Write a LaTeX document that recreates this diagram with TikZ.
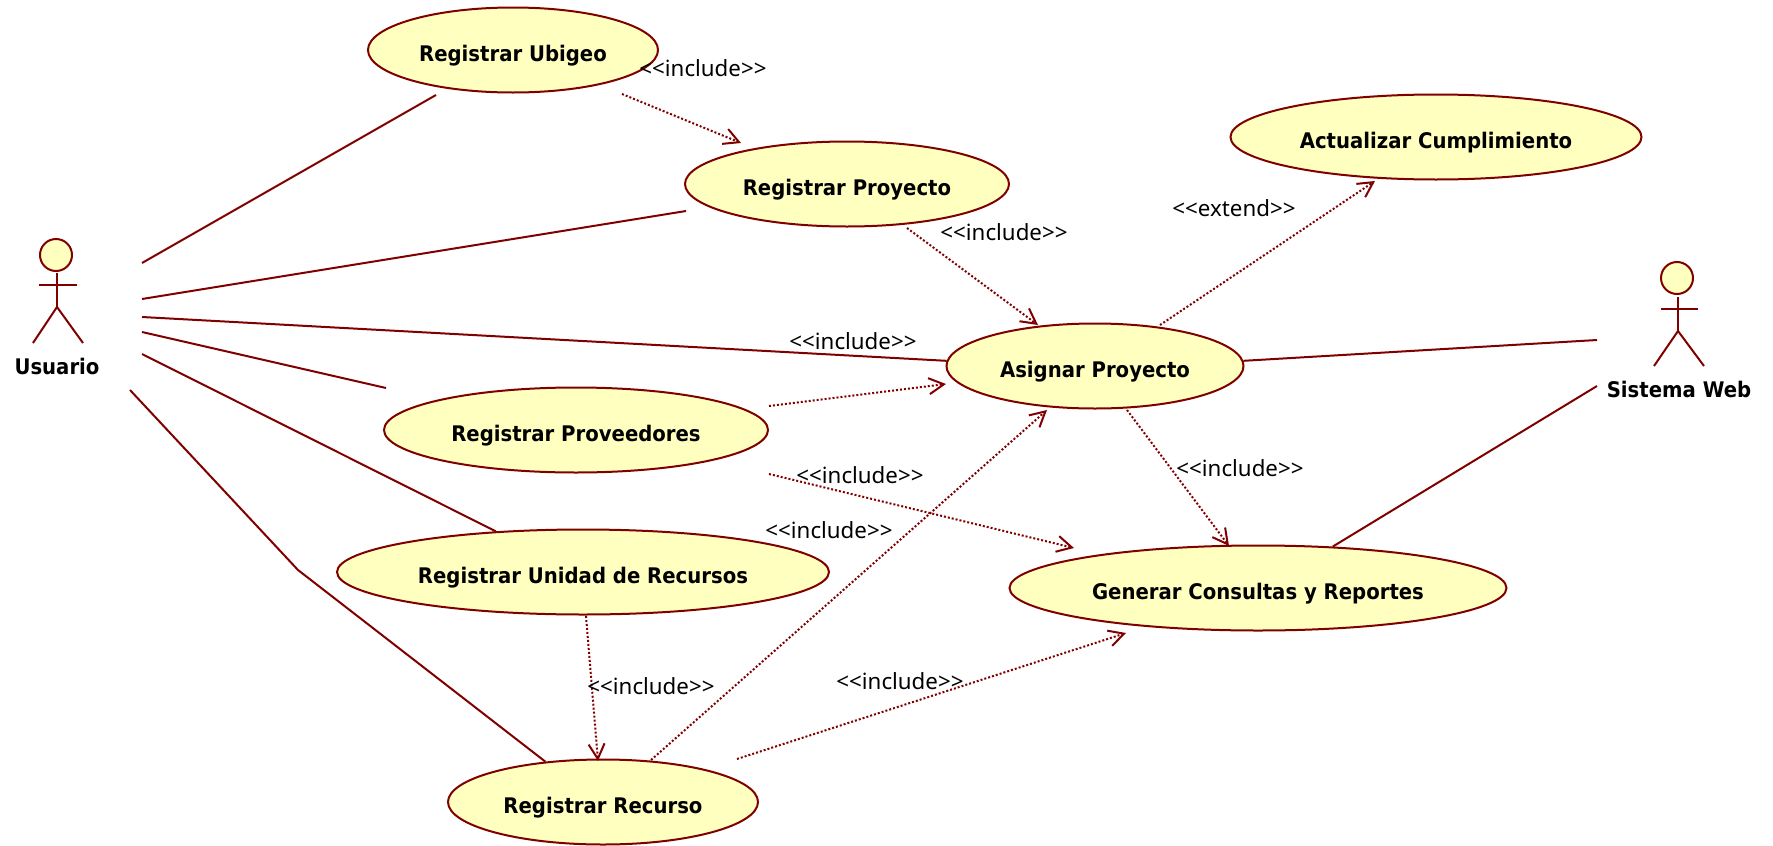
\documentclass[tikz,border=0pt]{standalone}
\usepackage{xcolor}
\usepackage{fontspec}
\setmainfont{Noto Sans}
\newfontfamily\labelfont[FakeStretch=0.915]{DejaVu Sans}
\usetikzlibrary{shapes.geometric}
\usetikzlibrary{arrows.meta}
\definecolor{umlline}{HTML}{800000}
\definecolor{umlfill}{HTML}{FFFFC0}
\tikzset{usecase/.style={ellipse, draw=umlline, fill=umlfill, line width=2pt, inner sep=0pt, minimum height=85pt, text height=22pt, text depth=0pt, font=\fontsize{21.5}{25}\labelfont\bfseries},
         assoc/.style={draw=umlline, line width=2pt},
         depend/.style={draw=umlline, line width=2pt, dash pattern=on 2pt off 2pt, ->},
         stereo/.style={inner sep=0pt, font=\fontsize{22.3}{25}\selectfont},
         actorname/.style={inner sep=0pt, font=\fontsize{21.5}{25}\labelfont\bfseries},
         actorhead/.style={circle, draw=umlline, fill=umlfill, line width=2pt, inner sep=0pt, minimum size=32pt}}
\newcommand{\incl}{<{}<include>{}>}

\begin{document}
\begin{tikzpicture}[x=1pt, y=-1pt, >={Straight Barb[length=15pt,width=16pt,line width=2pt]}]
\useasboundingbox (0,0) rectangle (1773,846);

\node[usecase, minimum width=290pt] (ubigeo) at (513,50) {Registrar Ubigeo};
\node[usecase, minimum width=324pt] (proyecto) at (847,184) {Registrar Proyecto};
\node[usecase, minimum width=411pt] (actualizar) at (1436,137) {Actualizar Cumplimiento};
\node[usecase, minimum width=297pt] (asignar) at (1095,366) {Asignar Proyecto};
\node[usecase, minimum width=384pt] (proveedores) at (576,430) {Registrar Proveedores};
\node[usecase, minimum width=492pt] (unidad) at (583,572) {Registrar Unidad de Recursos};
\node[usecase, minimum width=497pt] (consultas) at (1258,588) {Generar Consultas y Reportes};
\node[usecase, minimum width=310pt] (recurso) at (603,802) {Registrar Recurso};

% actors
\node[actorhead] (usuario) at (56,255) {};
\coordinate (usuarioHip) at (57,307);
\draw[assoc] (57,273)--(usuarioHip);
\draw[assoc] (39,285)--(77,285);
\draw[assoc] (33,343)--(usuarioHip)--(83,343);
\node[actorname] (usuarioName) at (57,366) {Usuario};

\node[actorhead] (sistema) at (1677,278) {};
\coordinate (sistemaHip) at (1678,331);
\draw[assoc] (1678,297)--(sistemaHip);
\draw[assoc] (1661,309)--(1698,309);
\draw[assoc] (1654,366)--(sistemaHip)--(1704,366);
\node[actorname] (sistemaName) at (1679,389) {Sistema Web};

% associations
\coordinate (u1) at (142,263);
\coordinate (u2) at (142,299);
\coordinate (u3) at (142,317);
\coordinate (u4) at (142,332);
\coordinate (u5) at (142,354);
\coordinate (u6) at (130,390);
\coordinate (ubigeoEnd) at (436,95);
\coordinate (proyectoEnd) at (686,211);
\coordinate (proveedoresEnd) at (386,388);
\coordinate (s1) at (1597,340);
\coordinate (s2) at (1597,386);
\draw[assoc] (u1)--(ubigeoEnd);
\draw[assoc] (u2)--(proyectoEnd);
\draw[assoc] (u3)--(asignar.178);
\draw[assoc] (u4)--(proveedoresEnd);
\draw[assoc] (u5)--(unidad.155);
\draw[assoc] (u6)--(298,570)--(recurso.145);
\draw[assoc] (asignar.2)--(s1);
\draw[assoc] (consultas.29)--(s2);

% dependencies
\coordinate (d1a) at (622,94);
\coordinate (d1b) at (741,143);
\coordinate (d2a) at (907,228);
\coordinate (d2b) at (1038,325);
\coordinate (d3a) at (1160,325);
\coordinate (d3b) at (1375,181);
\coordinate (d4a) at (769,406);
\coordinate (d4b) at (946,384);
\coordinate (d5a) at (769,474);
\coordinate (d5b) at (1074,548);
\coordinate (d6a) at (1127,410);
\coordinate (d6b) at (1229,546);
\coordinate (d7a) at (586,616);
\coordinate (d7b) at (598,761);
\coordinate (d8a) at (651,760);
\coordinate (d8b) at (1047,410);
\coordinate (d9a) at (737,759);
\coordinate (d9b) at (1126,633);
\foreach \a/\b in {d1a/d1b, d2a/d2b, d3a/d3b, d4a/d4b, d5a/d5b, d6a/d6b, d7a/d7b, d8a/d8b, d9a/d9b}
  \draw[depend] (\a)--(\b);

\node[stereo] (incl1) at (703,68) {\incl};
\node[stereo] (incl2) at (1004,232) {\incl};
\node[stereo] (ext1) at (1234,208) {<{}<extend>{}>};
\node[stereo] (incl3) at (853,341) {\incl};
\node[stereo] (incl4) at (860,475) {\incl};
\node[stereo] (incl5) at (1240,468) {\incl};
\node[stereo] (incl6) at (829,530) {\incl};
\node[stereo] (incl7) at (651,686) {\incl};
\node[stereo] (incl8) at (900,681) {\incl};
\end{tikzpicture}
\end{document}
